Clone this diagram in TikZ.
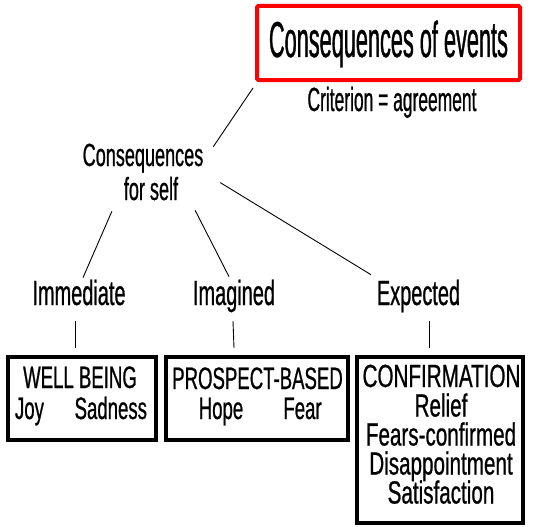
\documentclass[tikz,border=0pt]{standalone}
\usepackage{fontspec}
\setmainfont{Liberation Sans}
\newfontfamily\fTitle{Liberation Sans}[FakeStretch=0.43,FakeBold=0.7]
\newfontfamily\fCrit{Liberation Sans}[FakeStretch=0.52,FakeBold=0.7]
\newfontfamily\fSelf{Liberation Sans}[FakeStretch=0.565,FakeBold=0.7]
\newfontfamily\fLab{Liberation Sans}[FakeStretch=0.57,FakeBold=0.7]
\newfontfamily\fBox{Liberation Sans}[FakeStretch=0.6,FakeBold=0.7]
\newfontfamily\fConf{Liberation Sans}[FakeStretch=0.645,FakeBold=0.7]
\begin{document}
\begin{tikzpicture}[x=1pt,y=-1pt,
  txt/.style={inner sep=0pt, outer sep=0pt, anchor=base},
  conn/.style={line width=0.9pt},
  boxframe/.style={draw, line width=4pt, inner sep=0pt, outer sep=0pt, rectangle},
  titlefont/.style={font=\fTitle\fontsize{50.5}{50.5}\selectfont},
  critfont/.style={font=\fCrit\fontsize{33.5}{33.5}\selectfont},
  selffont/.style={font=\fSelf\fontsize{32}{32}\selectfont},
  labfont/.style={font=\fLab\fontsize{35}{35}\selectfont},
  boxfont/.style={font=\fBox\fontsize{31}{31}\selectfont},
  conffont/.style={font=\fConf\fontsize{32}{32}\selectfont}]
\useasboundingbox (0,0) rectangle (538,527);
% top box
\node[boxframe, draw=red, rounded corners=1.5pt, minimum width=263pt, minimum height=74pt] (evbox) at (388.5,43) {};
\node[txt, titlefont] (evt) at (388.5,57) {Consequences of events};
\node[txt, critfont] (crit) at (392,111) {Criterion = agreement};
% consequences for self
\node[txt, selffont] (cs1) at (143,166) {Consequences};
\node[txt, selffont] (cs2) at (151,200) {for self};
% labels
\node[txt, labfont] (imm) at (79,305) {Immediate};
\node[txt, labfont] (ima) at (234,305) {Imagined};
\node[txt, labfont] (exp) at (418.5,305) {Expected};
% boxes
\node[boxframe, minimum width=148pt, minimum height=83pt] (b1) at (82,398.5) {};
\node[boxframe, minimum width=182pt, minimum height=83pt] (b2) at (257,398.5) {};
\node[boxframe, line width=3.6pt, minimum width=166pt, minimum height=166pt] (b3) at (440,440) {};
% box texts
\node[txt, boxfont] (wb) at (80,388) {WELL BEING};
\node[txt, boxfont, anchor=base west] (joy) at (15,419) {Joy};
\node[txt, boxfont, anchor=base east] (sad) at (147,419) {Sadness};
\node[txt, boxfont] (pb) at (257.5,389) {PROSPECT-BASED};
\node[txt, boxfont] (hope) at (221,419) {Hope};
\node[txt, boxfont] (fear) at (302.5,419) {Fear};
\node[txt, conffont] (conf) at (441.5,387) {CONFIRMATION};
\node[txt, conffont] (rel) at (441,416.5) {Relief};
\node[txt, conffont] (fc) at (441,445.5) {Fears-confirmed};
\node[txt, conffont] (dis) at (441,474.5) {Disappointment};
\node[txt, conffont] (sat) at (441,503.5) {Satisfaction};
% connectors
\draw[conn] ([shift={(-4,8)}]evbox.south west) -- ([shift={(10,3)}]cs1.north east);
\draw[conn] ([shift={(-12,11)}]cs2.south west) -- ([shift={(4,-2)}]imm.north);
\draw[conn] ([shift={(17,10)}]cs2.south east) -- ([shift={(-5,-3)}]ima.north);
\draw[conn] ([shift={(17,10)}]cs1.south east) -- ([shift={(-6,-5)}]exp.north west);
\draw[conn] ([shift={(-4,16)}]imm.base) -- ([shift={(-7,-9)}]b1.north);
\draw[conn] ([shift={(-1,16)}]ima.base) -- ([shift={(-23,-9)}]b2.north);
\draw[conn] ([shift={(10.5,16)}]exp.base) -- ([shift={(-11,-9)}]b3.north);
\end{tikzpicture}
\end{document}
